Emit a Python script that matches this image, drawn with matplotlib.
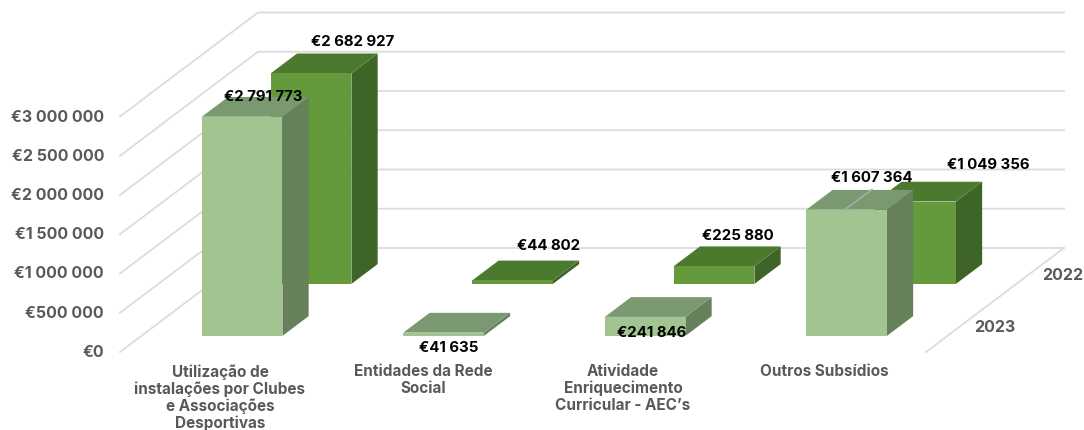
import matplotlib.pyplot as plt
from matplotlib.patches import Polygon

plt.rcParams["font.family"] = ["Inter", "DejaVu Sans"]

categories = [
    "Utilização de\ninstalações por Clubes\ne Associações\nDesportivas",
    "Entidades da Rede\nSocial",
    "Atividade\nEnriquecimento\nCurricular - AEC’s",
    "Outros Subsídios",
]
years = ["2023", "2022"]
values_2023 = [2791773, 41635, 241846, 1607364]
values_2022 = [2682927, 44802, 225880, 1049356]
ticks = [0, 500000, 1000000, 1500000, 2000000, 2500000, 3000000]

GRID = "#dcdcdc"
GRAY = "#595959"
colors_2023 = {"front": "#a1c490", "top": "#7a9970", "side": "#66805a"}
colors_2022 = {"front": "#659a3c", "top": "#4b7a2e", "side": "#3f6428"}


# oblique projection: category position, value, depth -> pixel
def proj(cat, val, depth):
    x = 120 + cat * 201.5 + depth * 69
    y = 352 - val * 39.25 / 500000 - depth * 52
    return x, y


def euro(v):
    return "€" + f"{v:,}".replace(",", " ")


def draw_bar(ax, i, val, slot, c):
    c0, c1 = i + 0.3, i + 0.7
    d0, d1 = slot + 0.31, slot + 0.69
    front = [proj(c0, 0, d0), proj(c1, 0, d0), proj(c1, val, d0), proj(c0, val, d0)]
    side = [proj(c1, 0, d0), proj(c1, 0, d1), proj(c1, val, d1), proj(c1, val, d0)]
    top = [proj(c0, val, d0), proj(c1, val, d0), proj(c1, val, d1), proj(c0, val, d1)]
    ax.add_patch(Polygon(side, fc=c["side"], ec="none", zorder=3))
    ax.add_patch(Polygon(top, fc=c["top"], ec="none", zorder=3))
    ax.add_patch(Polygon(front, fc=c["front"], ec="none", zorder=3))


fig = plt.figure(figsize=(10.84, 4.30), dpi=100)
ax = fig.add_axes([0, 0, 1, 1])
ax.set_xlim(0, 1084)
ax.set_ylim(430, 0)
ax.axis("off")

# grid
for t in ticks:
    a, b, c = proj(0, t, 0), proj(0, t, 2), proj(4, t, 2)
    ax.plot([a[0], b[0], c[0]], [a[1], b[1], c[1]], color=GRID, lw=1.3, solid_joinstyle="miter")
    ax.text(104, a[1] + 0.5, euro(t), ha="right", va="center", fontsize=11.5, fontweight="bold", color=GRAY)
a, b = proj(4, 0, 0), proj(4, 0, 2)
ax.plot([a[0], b[0]], [a[1], b[1]], color=GRID, lw=1.3)

# back row first, front row over it
for i, v in enumerate(values_2022):
    draw_bar(ax, i, v, 1, colors_2022)
for i, v in enumerate(values_2023):
    draw_bar(ax, i, v, 0, colors_2023)

# stray line on top of the last bar
ax.plot([845, 872], [209.5, 189.5], color="#a8aca6", lw=1.2, zorder=4)

label_pos_2023 = [(263, 97), (449, 348), (652, 333), (872, 178)]
label_pos_2022 = [(353, 42), (549, 246), (738, 236), (988, 165)]
for v, p in zip(values_2023 + values_2022, label_pos_2023 + label_pos_2022):
    ax.text(p[0], p[1], euro(v), ha="center", va="center", fontsize=10.8, fontweight="bold", color="black", zorder=5)

cat_x = [220, 423, 623, 824]
for x, name in zip(cat_x, categories):
    ax.text(x, 364, name, ha="center", va="top", fontsize=11, fontweight="bold", color=GRAY, linespacing=1.13)

ax.text(995, 327, years[0], ha="center", va="center", fontsize=11.5, fontweight="bold", color=GRAY)
ax.text(1063, 275, years[1], ha="center", va="center", fontsize=11.5, fontweight="bold", color=GRAY)

fig.savefig("out.png", dpi=100)
